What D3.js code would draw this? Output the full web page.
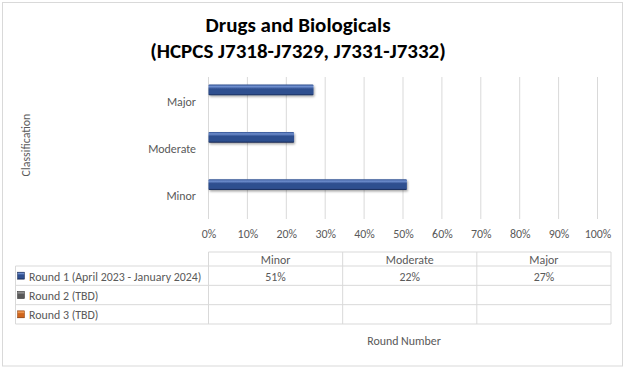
<!DOCTYPE html>
<html>
<head>
<meta charset="utf-8">
<script src="https://cdn.jsdelivr.net/npm/d3@7"></script>
<style>
  body { margin: 0; background: #fff; }
  text { font-family: Carlito, Calibri, 'Open Sans', sans-serif; }
</style>
</head>
<body>
<div id="chart"></div>
<script>
// categories as Excel lists them (bottom to top on the chart)
const categories = ["Minor", "Moderate", "Major"]
const seriesNames = ["Round 1 (April 2023 - January 2024)", "Round 2 (TBD)", "Round 3 (TBD)"]
const round1 = [51, 22, 27]
const round2 = [null, null, null]
const round3 = [null, null, null]
const tickValues = [0, 10, 20, 30, 40, 50, 60, 70, 80, 90, 100]
const titleLines = ["Drugs and Biologicals", "(HCPCS J7318-J7329, J7331-J7332)"]

const gc = {
    width: 628,
    height: 370,
    plot: { left: 208.5, right: 597.5, top: 77, bottom: 219 },
    table: { left: 15.5, right: 611, top: 252, header: 266, bottom: 324 },
    text: { color: '#595959', size: 11.9 },
    grid: '#d9d9d9',
    keys: [
        ['#6f8fcf', '#2f4f8f', '#15264f'],
        ['#9a9a9a', '#595959', '#2e2e2e'],
        ['#f4a460', '#d0651c', '#8a3a08']
    ]
}

function addGradient(defs, id, stops) {
    const lg = defs.append('linearGradient')
        .attr('id', id)
        .attr('x1', 0).attr('y1', 0)
        .attr('x2', 0).attr('y2', 1)
    lg.append('stop').attr('offset', '0%').attr('stop-color', stops[1])
    lg.append('stop').attr('offset', '18%').attr('stop-color', stops[0])
    lg.append('stop').attr('offset', '40%').attr('stop-color', stops[1])
    lg.append('stop').attr('offset', '85%').attr('stop-color', stops[1])
    lg.append('stop').attr('offset', '100%').attr('stop-color', stops[2])
}

function drawLine(parent, x1, y1, x2, y2, color) {
    return parent.append('line')
        .attr('x1', x1).attr('y1', y1)
        .attr('x2', x2).attr('y2', y2)
        .style('stroke', color)
        .style('stroke-width', 1)
}

function drawText(parent, x, y, str, anchor) {
    return parent.append('text')
        .attr('x', x)
        .attr('y', y)
        .attr('text-anchor', anchor || 'middle')
        .attr('dominant-baseline', 'central')
        .style('font-size', gc.text.size + 'px')
        .style('fill', gc.text.color)
        .text(str)
}

const svg = d3.select('#chart').append('svg')
    .attr('width', gc.width)
    .attr('height', gc.height)

const defs = svg.append('defs')
gc.keys.forEach((k, i) => addGradient(defs, 'grad' + i, k))
defs.append('filter').attr('id', 'shadow')
    .attr('x', '-10%').attr('y', '-40%').attr('width', '130%').attr('height', '200%')
    .append('feDropShadow')
    .attr('dx', 1).attr('dy', 1.5)
    .attr('stdDeviation', 1.2)
    .attr('flood-color', '#000')
    .attr('flood-opacity', 0.35)

// chart border
svg.append('rect')
    .attr('x', 2.5).attr('y', 2.5)
    .attr('width', 620).attr('height', 363.5)
    .style('fill', '#fff')
    .style('stroke', '#d9d9d9')

// title
titleLines.forEach((line, i) => {
    svg.append('text')
        .attr('x', 298)
        .attr('y', 25 + i * 26)
        .attr('text-anchor', 'middle')
        .attr('dominant-baseline', 'central')
        .style('font-size', '21px')
        .style('font-weight', 'bold')
        .style('fill', '#000')
        .text(line)
})

const x = d3.scaleLinear()
    .domain([0, 100])
    .range([gc.plot.left, gc.plot.right])

// chart reads top to bottom in reverse order of the categories
const y = d3.scaleBand()
    .domain(categories.slice().reverse())
    .range([gc.plot.top, gc.plot.bottom])

const ySeries = d3.scaleBand()
    .domain(seriesNames)
    .range([0, y.bandwidth()])
    .paddingOuter(0.71)

// gridlines
svg.append('g').selectAll('line')
    .data(tickValues)
    .join('line')
    .attr('x1', d => x(d)).attr('x2', d => x(d))
    .attr('y1', gc.plot.top).attr('y2', gc.plot.bottom)
    .style('stroke', gc.grid)

// x tick labels
const xAxis = svg.append('g')
    .attr('transform', `translate(0,${gc.plot.bottom})`)
    .call(d3.axisBottom(x).tickValues(tickValues).tickFormat(d => d + '%').tickSize(0).tickPadding(11))
xAxis.select('.domain').remove()
xAxis.attr('font-family', null).attr('font-size', null)
xAxis.selectAll('text')
    .style('font-size', gc.text.size + 'px')
    .style('fill', gc.text.color)

// category labels
categories.forEach(c => {
    drawText(svg, 196, y(c) + y.bandwidth() / 2 + 1, c, 'end')
})

// bars
const allSeries = [round1, round2, round3]
allSeries.forEach((vals, si) => {
    svg.append('g').selectAll('rect')
        .data(vals.map((v, i) => ({ cat: categories[i], v: v })).filter(d => d.v !== null))
        .join('rect')
        .attr('x', x(0))
        .attr('y', d => y(d.cat) + ySeries(seriesNames[si]))
        .attr('width', d => x(d.v) - x(0))
        .attr('height', ySeries.bandwidth())
        .attr('rx', 1)
        .style('fill', `url(#grad${si})`)
        .style('filter', 'url(#shadow)')
})

// axis titles
drawText(svg, 0, 0, 'Classification')
    .attr('transform', 'translate(26,145) rotate(-90)')
drawText(svg, 404, 341, 'Round Number')

// data table
const t = gc.table
const col = d3.scaleBand()
    .domain(categories)
    .range([gc.plot.left, t.right])
const row = d3.scaleBand()
    .domain(seriesNames)
    .range([t.header, t.bottom])

const tg = svg.append('g')
drawLine(tg, gc.plot.left, t.top, t.right, t.top, gc.grid)
row.domain().forEach(s => drawLine(tg, t.left, row(s), t.right, row(s), gc.grid))
drawLine(tg, t.left, t.bottom, t.right, t.bottom, gc.grid)
drawLine(tg, t.left, t.header, t.left, t.bottom, gc.grid)
categories.forEach(c => drawLine(tg, col(c), t.top, col(c), t.bottom, gc.grid))
drawLine(tg, t.right, t.top, t.right, t.bottom, gc.grid)

categories.forEach(c => drawText(tg, col(c) + col.bandwidth() / 2, (t.top + t.header) / 2 + 1, c))

seriesNames.forEach((s, si) => {
    const cy = row(s) + row.bandwidth() / 2
    tg.append('rect')
        .attr('x', 17.5).attr('y', cy - 3.5)
        .attr('width', 7).attr('height', 7)
        .style('fill', `url(#grad${si})`)
        .style('stroke', gc.keys[si][2])
        .style('stroke-width', 0.5)
    drawText(tg, 29, cy + 1, s, 'start')
    allSeries[si].forEach((v, i) => {
        if (v !== null) drawText(tg, col(categories[i]) + col.bandwidth() / 2, cy + 1, v + '%')
    })
})
</script>
</body>
</html>
